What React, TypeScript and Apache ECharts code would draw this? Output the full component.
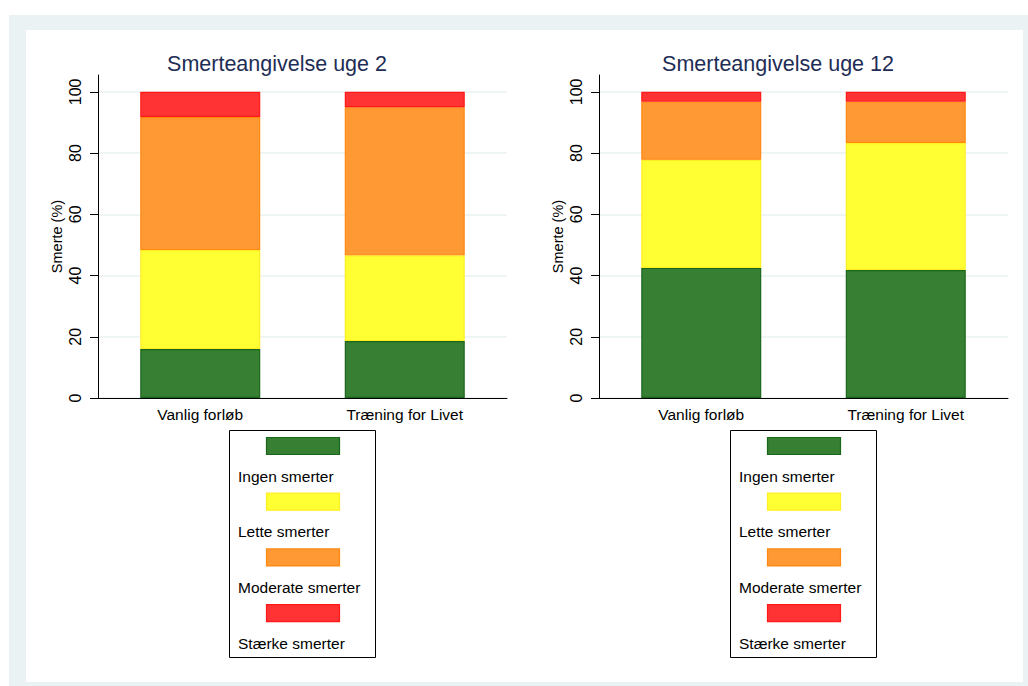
import React, { useEffect, useRef } from "react";
import * as echarts from "echarts";

const categories = ["Vanlig forløb", "Træning for Livet"];
const levels = ["Ingen smerter", "Lette smerter", "Moderate smerter", "Stærke smerter"];
const titles = ["Smerteangivelse uge 2", "Smerteangivelse uge 12"];
const yTicks = [0, 20, 40, 60, 80, 100];

// week 2
const w2Ingen = [16.0, 18.6];
const w2Lette = [32.3, 28.0];
const w2Moderate = [43.5, 48.4];
const w2Staerke = [8.2, 5.0];
// week 12
const w12Ingen = [42.5, 41.8];
const w12Lette = [35.3, 41.5];
const w12Moderate = [19.0, 13.5];
const w12Staerke = [3.2, 3.2];

const fills = ["#367f33", "#ffff33", "#ff9933", "#ff3333"];
const borders = ["#1a661a", "#ffee22", "#ff8811", "#ff1a1a"];
const FONT = "'Liberation Sans', Arial, Helvetica, sans-serif";

export default function App() {
  const ref = useRef<HTMLDivElement>(null);
  useEffect(() => {
    if (!ref.current) return;
    const chart = echarts.init(ref.current, undefined, { renderer: "svg" });
    const panels = [
      { off: 0, data: [w2Ingen, w2Lette, w2Moderate, w2Staerke] },
      { off: 501, data: [w12Ingen, w12Lette, w12Moderate, w12Staerke] },
    ];
    const grids: any[] = [];
    const xAxes: any[] = [];
    const yAxes: any[] = [];
    const series: any[] = [];
    const graphics: any[] = [
      { type: "rect", shape: { x: 9, y: 15, width: 1019, height: 671 }, style: { fill: "#eaf2f3" }, silent: true, z: -10 },
      { type: "rect", shape: { x: 26, y: 30, width: 997, height: 652 }, style: { fill: "#ffffff" }, silent: true, z: -9 },
    ];
    const titleArr: any[] = [];
    panels.forEach((p, pi) => {
      grids.push({ left: 98 + p.off, top: 75, width: 409, height: 323 });
      xAxes.push({
        type: "category",
        gridIndex: pi,
        data: categories,
        axisLine: { lineStyle: { color: "#000", width: 1 } },
        axisTick: { show: false },
        axisLabel: { color: "#000", fontSize: 15.5, fontFamily: FONT, margin: 8 },
      });
      yAxes.push({
        type: "value",
        gridIndex: pi,
        min: 0,
        max: 105.5,
        interval: 20,
        name: "Smerte (%)",
        nameLocation: "middle",
        nameGap: 34,
        nameTextStyle: { color: "#000", fontSize: 14.5, fontFamily: FONT },
        axisLine: { show: true, lineStyle: { color: "#000", width: 1 } },
        axisTick: { show: true, length: 8, lineStyle: { color: "#000" }, customValues: yTicks },
        axisLabel: {
          color: "#000",
          fontSize: 16,
          fontFamily: FONT,
          rotate: 90,
          margin: 15,
          customValues: yTicks,
        },
        splitLine: {
          show: true,
          lineStyle: {
            color: ["#eaf0f0", "#eaf0f0", "#eaf0f0", "#eaf0f0", "#eaf0f0", "#eaf0f0", "rgba(0,0,0,0)"],
            width: 1.5,
          },
        },
      });
      p.data.forEach((vals, li) => {
        series.push({
          type: "bar",
          name: levels[li],
          stack: "s" + pi,
          xAxisIndex: pi,
          yAxisIndex: pi,
          data: vals,
          barWidth: 120,
          itemStyle: { color: fills[li], borderColor: borders[li], borderWidth: 1.2 },
        });
      });
      titleArr.push({
        text: titles[pi],
        left: 272 + p.off,
        top: 48,
        textAlign: "center",
        textStyle: { color: "#1e2d55", fontSize: 21.5, fontWeight: "normal", fontFamily: FONT },
      });
      // legend box
      const bx = 229 + p.off;
      const by = 430;
      graphics.push({
        type: "rect",
        shape: { x: bx + 0.5, y: by + 0.5, width: 146, height: 227 },
        style: { fill: "#fff", stroke: "#000", lineWidth: 1 },
        silent: true,
      });
      levels.forEach((lv, li) => {
        const sy = 437 + li * 55.7;
        graphics.push({
          type: "rect",
          shape: { x: bx + 37.5, y: sy + 0.5, width: 73, height: 17 },
          style: { fill: fills[li], stroke: borders[li], lineWidth: 1.2 },
          silent: true,
        });
        graphics.push({
          type: "text",
          x: bx + 9,
          y: sy + 39,
          style: {
            text: lv,
            fill: "#000",
            fontSize: 15.5,
            fontFamily: FONT,
            textVerticalAlign: "middle",
            verticalAlign: "middle",
          },
          silent: true,
        });
      });
    });
    chart.setOption({
      animation: false,
      backgroundColor: "#ffffff",
      title: titleArr,
      grid: grids,
      xAxis: xAxes,
      yAxis: yAxes,
      series,
      graphic: graphics,
    });
    return () => chart.dispose();
  }, []);
  return (
    <div
      ref={ref}
      style={{ position: "fixed", left: 0, top: 0, width: 1028, height: 686 }}
    />
  );
}
